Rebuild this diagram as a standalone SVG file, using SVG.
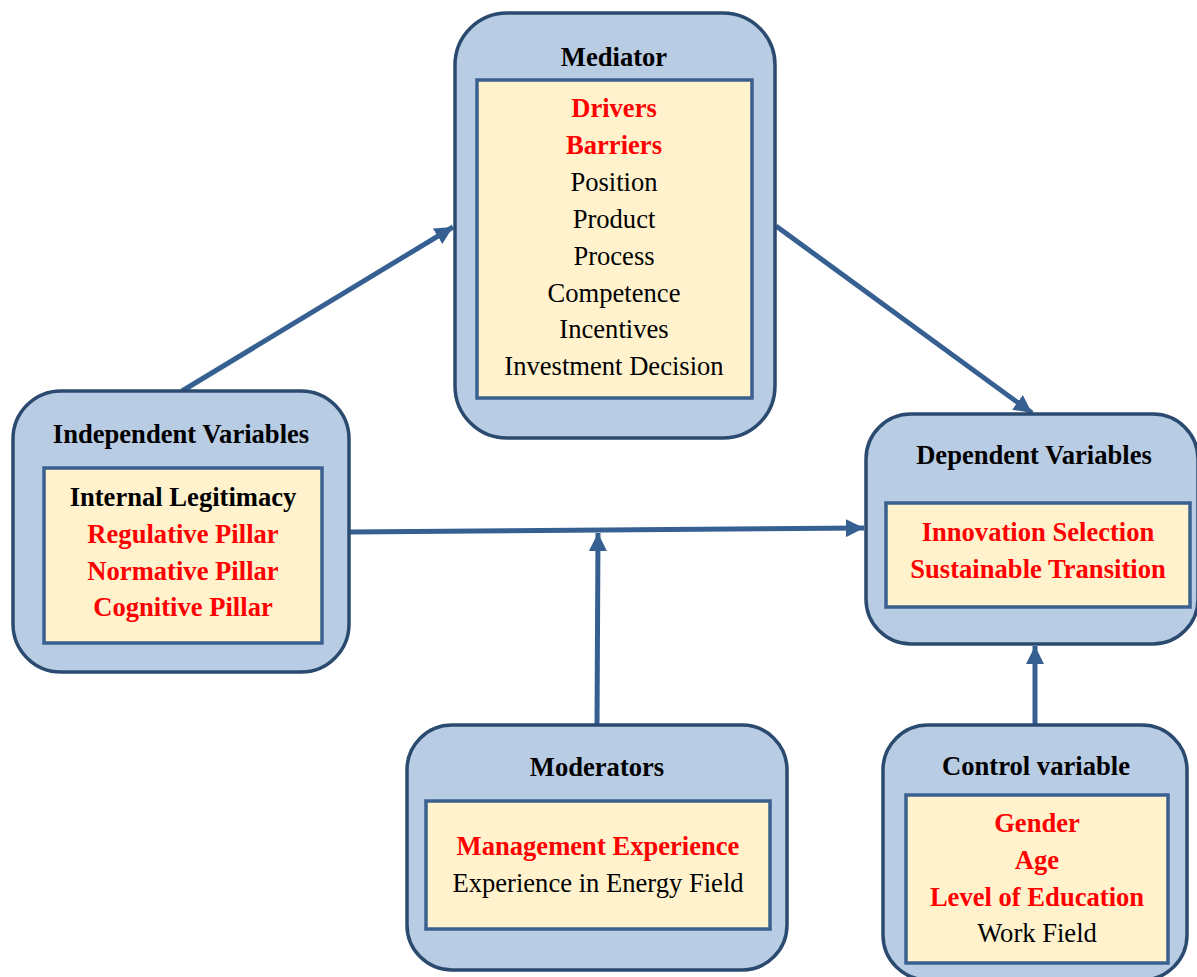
<svg xmlns="http://www.w3.org/2000/svg" width="1197" height="977" viewBox="0 0 1197 977">
  <style>
    .outer { fill: #b8cce4; stroke: #2b4a6f; stroke-width: 3.5; }
    .inner { fill: #fff2cc; stroke: #3a6090; stroke-width: 3.5; }
    text { font-family: "Liberation Serif", "Times New Roman", serif; font-size: 26.6px; text-anchor: middle; }
    .title { font-weight: bold; fill: #000; }
    .hi { font-weight: bold; fill: #ff0000; }
    .lo { fill: #000; }
    .conn { stroke: #376092; stroke-width: 5; fill: none; marker-end: url(#head); }
  </style>
  <defs>
    <marker id="head" markerUnits="userSpaceOnUse" markerWidth="20" markerHeight="18" refX="18" refY="9" orient="auto">
      <path d="M0,0 L18,9 L0,18 Z" fill="#376092"/>
    </marker>
  </defs>

  <g id="connectors">
    <line class="conn" x1="182" y1="391" x2="453" y2="227"/>
    <line class="conn" x1="776" y1="226" x2="1032" y2="413"/>
    <line class="conn" x1="350" y1="532" x2="864" y2="528"/>
    <line class="conn" x1="597" y1="725" x2="598" y2="533"/>
    <line class="conn" x1="1035" y1="725" x2="1035" y2="646"/>
  </g>

  <g id="mediator">
    <rect class="outer" x="455" y="13" width="320" height="425" rx="52"/>
    <rect class="inner" x="477" y="80" width="275" height="318"/>
    <text class="title" x="614" y="66">Mediator</text>
    <text class="hi" x="614" y="117">Drivers</text>
    <text class="hi" x="614" y="154">Barriers</text>
    <text class="lo" x="614" y="191">Position</text>
    <text class="lo" x="614" y="228">Product</text>
    <text class="lo" x="614" y="265">Process</text>
    <text class="lo" x="614" y="302">Competence</text>
    <text class="lo" x="614" y="338">Incentives</text>
    <text class="lo" x="614" y="375">Investment Decision</text>
  </g>

  <g id="independent">
    <rect class="outer" x="13" y="391" width="336" height="281" rx="48"/>
    <rect class="inner" x="44" y="468" width="278" height="175"/>
    <text class="title" x="181" y="443">Independent Variables</text>
    <text class="title" x="183" y="506">Internal Legitimacy</text>
    <text class="hi" x="183" y="543">Regulative Pillar</text>
    <text class="hi" x="183" y="580">Normative Pillar</text>
    <text class="hi" x="183" y="616">Cognitive Pillar</text>
  </g>

  <g id="dependent">
    <rect class="outer" x="866" y="414" width="332" height="230" rx="45"/>
    <rect class="inner" x="886" y="503" width="304" height="104"/>
    <text class="title" x="1034" y="464">Dependent Variables</text>
    <text class="hi" x="1038" y="541">Innovation Selection</text>
    <text class="hi" x="1038" y="578">Sustainable Transition</text>
  </g>

  <g id="moderators">
    <rect class="outer" x="407" y="725" width="380" height="245" rx="45"/>
    <rect class="inner" x="426" y="801" width="344" height="128"/>
    <text class="title" x="597" y="776">Moderators</text>
    <text class="hi" x="598" y="855">Management Experience</text>
    <text class="lo" x="598" y="892">Experience in Energy Field</text>
  </g>

  <g id="control">
    <rect class="outer" x="883" y="725" width="304" height="255" rx="45"/>
    <rect class="inner" x="906" y="795" width="262" height="168"/>
    <text class="title" x="1036" y="775">Control variable</text>
    <text class="hi" x="1037" y="832">Gender</text>
    <text class="hi" x="1037" y="869">Age</text>
    <text class="hi" x="1037" y="906">Level of Education</text>
    <text class="lo" x="1037" y="942">Work Field</text>
  </g>
</svg>
